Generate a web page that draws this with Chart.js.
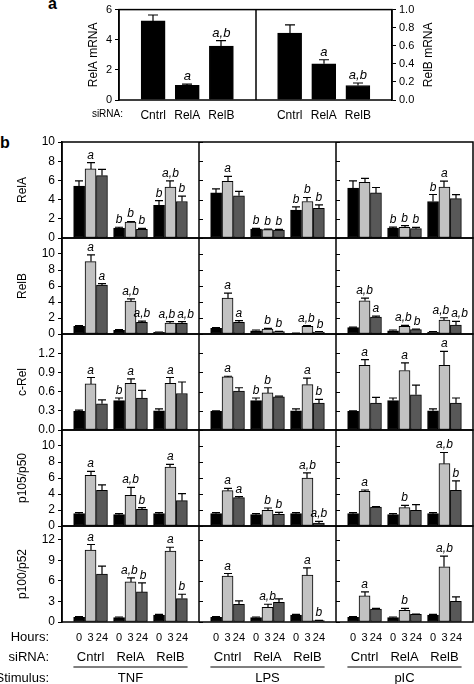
<!DOCTYPE html>
<html>
<head>
<meta charset="utf-8">
<script src="https://cdn.jsdelivr.net/npm/chart.js@4.4.0/dist/chart.umd.min.js"></script>
<style>
  html, body { margin: 0; padding: 0; background: #fff; }
  #wrap { position: relative; width: 474px; height: 684px; overflow: hidden; font-family: "Liberation Sans", Arial, sans-serif; }
  canvas { position: absolute; left: 0; }
  .panel { position: absolute; font-weight: bold; font-size: 16px; color: #000; }
</style>
</head>
<body>
<div id="wrap">
  <div class="panel" style="left:48px; top:-5px;">a</div>
  <div class="panel" style="left:0px; top:134px;">b</div>
  <canvas id="mrna" width="474" height="125" style="top:0px"></canvas>
  <canvas id="row0" width="474" height="124" style="top:128px"></canvas>
  <canvas id="row1" width="474" height="124" style="top:224px"></canvas>
  <canvas id="row2" width="474" height="124" style="top:320px"></canvas>
  <canvas id="row3" width="474" height="124" style="top:416px"></canvas>
  <canvas id="row4" width="474" height="172" style="top:512px"></canvas>
</div>
<script>
// ---- data ----
const sirnaLabels = ['Cntrl', 'RelA', 'RelB'];
const hourLabels = ['0', '3', '24'];
const stimulusLabels = ['TNF', 'LPS', 'pIC'];

// panel a: mRNA after siRNA
const relaMrna = [5.25, 0.97, 3.58];
const relaMrnaSem = [0.39, 0.08, 0.36];
const relaMrnaSig = ['', 'a', 'a,b'];
const relbMrna = [0.74, 0.40, 0.16];
const relbMrnaSem = [0.09, 0.045, 0.028];
const relbMrnaSig = ['', 'a', 'a,b'];
const relaMrnaTicks = [0, 1, 2, 3, 4, 5, 6];
const relbMrnaTicks = [0, 0.2, 0.4, 0.6, 0.8, 1.0];

// panel b: order is stimulus (TNF, LPS, pIC) > siRNA (Cntrl, RelA, RelB) > hours (0, 3, 24)
const relaMean = [
  5.4, 7.2, 6.5,   1.04, 1.65, 0.9,   3.4, 5.3, 3.8,
  4.7, 5.9, 4.4,   0.93, 0.87, 0.83,  2.9, 3.8, 3.1,
  5.2, 5.8, 4.7,   1.04, 1.1, 0.97,   3.8, 5.3, 4.1
];
const relaSem = [
  0.55, 0.65, 0.65,  0.08, 0.07, 0.1,   0.5, 0.65, 0.56,
  0.42, 0.52, 0.45,  0.07, 0.06, 0.07,  0.35, 0.42, 0.35,
  0.76, 0.42, 0.56,  0.1, 0.18, 0.13,   0.73, 0.63, 0.41
];
const relaSig = [
  '', 'a', '',  'b', 'b', 'b',  'b', 'a,b', 'b',
  '', 'a', '',  'b', 'b', 'b',  'b', 'b', 'b',
  '', '', '',   'b', 'b', 'b',  'b', 'a', ''
];
const relaTicks = [0, 2, 4, 6, 8, 10];

const relbMean = [
  0.95, 9.05, 6.1,   0.46, 4.1, 1.45,   0.2, 1.37, 1.33,
  0.7, 4.48, 1.45,   0.41, 0.62, 0.29,  0.08, 0.95, 0.25,
  0.79, 4.15, 2.12,  0.41, 0.95, 0.54,  0.25, 1.74, 1.12
];
const relbSem = [
  0.09, 0.83, 0.2,   0.08, 0.3, 0.17,   0.05, 0.17, 0.21,
  0.09, 0.62, 0.21,  0.09, 0.08, 0.04,  0.04, 0.09, 0.04,
  0.08, 0.33, 0.12,  0.09, 0.13, 0.08,  0.04, 0.29, 0.46
];
const relbSig = [
  '', 'a', 'a',    '', 'a,b', 'a,b',  '', 'a,b', 'a,b',
  '', 'a', 'a',    '', 'b', 'b',      '', 'a,b', 'b',
  '', 'a,b', 'a',  '', 'a,b', 'b',    '', 'a,b', 'a,b'
];
const relbTicks = [0, 2, 4, 6, 8, 10];

const crelMean = [
  0.29, 0.72, 0.41,  0.46, 0.73, 0.5,   0.3, 0.73, 0.57,
  0.29, 0.83, 0.61,  0.46, 0.58, 0.52,  0.3, 0.71, 0.42,
  0.29, 1.01, 0.42,  0.46, 0.93, 0.55,  0.3, 1.01, 0.42
];
const crelSem = [
  0.02, 0.1, 0.06,   0.04, 0.07, 0.12,  0.03, 0.09, 0.18,
  0.01, 0.01, 0.05,  0.04, 0.08, 0.01,  0.03, 0.1, 0.06,
  0.01, 0.09, 0.09,  0.04, 0.12, 0.15,  0.03, 0.22, 0.08
];
const crelSig = [
  '', 'a', '',  'b', 'a', '',  '', 'a', '',
  '', 'a', '',  'b', 'b', '',  '', 'a', 'b',
  '', 'a', '',  '', 'a', '',   '', 'a', ''
];
const crelTicks = [0, 0.3, 0.6, 0.9, 1.2];

const p105Mean = [
  1.54, 6.33, 4.46,  1.42, 3.83, 2.08,  1.54, 7.38, 3.17,
  1.54, 4.42, 3.54,  1.42, 1.96, 1.46,  1.54, 6.0, 0.38,
  1.54, 4.33, 2.38,  1.42, 2.29, 1.96,  1.54, 7.79, 4.46
];
const p105Sem = [
  0.13, 0.5, 0.67,   0.12, 1.0, 0.21,   0.13, 0.33, 0.87,
  0.13, 0.29, 0.13,  0.12, 0.29, 0.25,  0.13, 0.63, 0.2,
  0.13, 0.17, 0.04,  0.12, 0.29, 0.71,  0.13, 1.4, 1.17
];
const p105Sig = [
  '', 'a', '',   '', 'a,b', 'b',  '', 'a', '',
  '', 'a', 'a',  '', 'b', 'b',    '', 'a,b', 'a,b',
  '', 'a', '',   '', 'b', '',     '', 'a,b', 'b'
];
const p105Ticks = [0, 2, 4, 6, 8, 10];

const p100Mean = [
  0.68, 10.5, 7.0,   0.63, 5.85, 4.39,  1.02, 10.34, 3.41,
  0.68, 6.68, 2.59,  0.63, 2.15, 2.88,  1.02, 6.83, 0.2,
  0.68, 3.8, 1.9,    0.63, 1.7, 1.12,   1.02, 8.05, 3.02
];
const p100Sem = [
  0.1, 0.8, 1.15,   0.1, 0.59, 1.31,  0.08, 0.56, 0.64,
  0.1, 0.39, 0.48,  0.1, 0.44, 0.49,  0.08, 1.07, 0.04,
  0.1, 0.59, 0.1,   0.1, 0.3, 0.05,   0.08, 1.55, 0.64
];
const p100Sig = [
  '', 'a', '',  '', 'a,b', 'b',  '', 'a', 'b',
  '', 'a', '',  '', 'a,b', '',   '', 'a', 'b',
  '', 'a', '',  '', 'b', '',     '', 'a,b', ''
];
const p100Ticks = [0, 3, 6, 9, 12];

// ---- style ----
const FONT = '"Liberation Sans", Arial, sans-serif';
const hourColors = ['#000000', '#c2c2c2', '#585858'];
Chart.defaults.font.family = FONT;
Chart.defaults.font.size = 12;
Chart.defaults.color = '#000';

const rows = [
  { title: 'RelA', mean: relaMean, sem: relaSem, sig: relaSig, ticks: relaTicks, max: 10, digits: 0 },
  { title: 'RelB', mean: relbMean, sem: relbSem, sig: relbSig, ticks: relbTicks, max: 12, digits: 0 },
  { title: 'c-Rel', mean: crelMean, sem: crelSem, sig: crelSig, ticks: crelTicks, max: 1.5, digits: 1 },
  { title: 'p105/p50', mean: p105Mean, sem: p105Sem, sig: p105Sig, ticks: p105Ticks, max: 12, digits: 0 },
  { title: 'p100/p52', mean: p100Mean, sem: p100Sem, sig: p100Sig, ticks: p100Ticks, max: 14, digits: 0 }
];

// each stimulus column is 12 x-units wide, bars are 1 unit
function barX(i) {
  const col = Math.floor(i / 9), grp = Math.floor(i / 3) % 3, h = i % 3;
  return col * 12 + 2.5 + grp * 3.5 + (h - 1);
}

function errorBarPlugin(cap, fontSize) {
  return {
    id: 'errorBars',
    afterDatasetsDraw(chart) {
      const ctx = chart.ctx;
      const labels = [];
      ctx.save();
      ctx.strokeStyle = '#000';
      ctx.fillStyle = '#000';
      ctx.lineWidth = 1.2;
      ctx.font = 'italic ' + fontSize + 'px ' + FONT;
      chart.data.datasets.forEach((ds, di) => {
        const meta = chart.getDatasetMeta(di);
        const yScale = chart.scales[meta.yAxisID];
        meta.data.forEach((bar, j) => {
          const top = yScale.getPixelForValue(ds.data[j].y + ds.sem[j]);
          const x = Math.round(bar.x);
          ctx.beginPath();
          ctx.moveTo(x, bar.y);
          ctx.lineTo(x, top);
          ctx.moveTo(x - cap, top);
          ctx.lineTo(x + cap, top);
          ctx.stroke();
          if (ds.sig[j]) {
            const w = ctx.measureText(ds.sig[j]).width;
            labels.push({ text: ds.sig[j], x: bar.x, y: top - 4, w: w });
          }
        });
      });
      // push apart labels that would collide
      labels.sort((p, q) => p.x - q.x);
      for (let k = 1; k < labels.length; k++) {
        const p = labels[k - 1], q = labels[k];
        const overlapX = (p.w + q.w) / 2 + 2 - (q.x - p.x);
        if (overlapX > 0 && Math.abs(p.y - q.y) < fontSize) {
          p.x -= overlapX / 2;
          q.x += overlapX / 2;
        }
      }
      ctx.textAlign = 'center';
      ctx.textBaseline = 'alphabetic';
      labels.forEach(l => ctx.fillText(l.text, l.x, l.y));
      ctx.restore();
    }
  };
}

const rowFrame = {
  id: 'rowFrame',
  afterDatasetsDraw(chart) {
    const { ctx, chartArea: a, scales: { x, y } } = chart;
    ctx.save();
    ctx.strokeStyle = '#000';
    ctx.lineWidth = 1.5;
    ctx.strokeRect(a.left, a.top, a.right - a.left, a.bottom - a.top);
    [12, 24].forEach(v => {
      const px = Math.round(x.getPixelForValue(v));
      ctx.lineWidth = 1.5;
      ctx.beginPath();
      ctx.moveTo(px, a.top);
      ctx.lineTo(px, a.bottom);
      ctx.stroke();
      ctx.lineWidth = 1;
      ctx.beginPath();
      y.ticks.forEach(t => {
        const py = Math.round(y.getPixelForValue(t.value)) + 0.5;
        ctx.moveTo(px, py);
        ctx.lineTo(px + 4, py);
      });
      ctx.stroke();
    });
    ctx.restore();
  }
};

const bottomLabels = {
  id: 'bottomLabels',
  afterDraw(chart) {
    const { ctx, chartArea: a, scales: { x } } = chart;
    ctx.save();
    ctx.fillStyle = '#000';
    ctx.strokeStyle = '#000';
    ctx.font = '13px ' + FONT;
    ctx.textBaseline = 'middle';
    ctx.textAlign = 'right';
    ctx.fillText('Hours:', 49, a.bottom + 15);
    ctx.fillText('siRNA:', 49, a.bottom + 35);
    ctx.fillText('Stimulus:', 49, a.bottom + 56);
    ctx.textAlign = 'center';
    stimulusLabels.forEach((s, c) => {
      sirnaLabels.forEach((r, g) => {
        ctx.fillText(r, x.getPixelForValue(c * 12 + 2.5 + g * 3.5), a.bottom + 35);
      });
      ctx.lineWidth = 1.2;
      ctx.beginPath();
      ctx.moveTo(x.getPixelForValue(c * 12 + 1), a.bottom + 45);
      ctx.lineTo(x.getPixelForValue(c * 12 + 11), a.bottom + 45);
      ctx.stroke();
      ctx.fillText(s, x.getPixelForValue(c * 12 + 6), a.bottom + 56);
    });
    ctx.restore();
  }
};

const mrnaFrame = {
  id: 'mrnaFrame',
  afterDatasetsDraw(chart) {
    const { ctx, chartArea: a, scales: { x } } = chart;
    ctx.save();
    ctx.strokeStyle = '#000';
    ctx.lineWidth = 1.5;
    ctx.strokeRect(a.left, a.top, a.right - a.left, a.bottom - a.top);
    const px = Math.round(x.getPixelForValue(4));
    ctx.beginPath();
    ctx.moveTo(px, a.top);
    ctx.lineTo(px, a.bottom);
    ctx.stroke();
    ctx.font = '10px ' + FONT;
    ctx.fillStyle = '#000';
    ctx.textAlign = 'right';
    ctx.textBaseline = 'middle';
    ctx.fillText('siRNA:', a.left + 4, a.bottom + 14);
    // right axis title reads bottom-to-top like the left one
    ctx.font = '12px ' + FONT;
    ctx.textAlign = 'center';
    ctx.translate(429, (a.top + a.bottom) / 2);
    ctx.rotate(-Math.PI / 2);
    ctx.fillText('RelB mRNA', 0, 0);
    ctx.restore();
  }
};

// ---- panel a ----
const mrnaTickX = [1, 2, 3, 5, 6, 7];
new Chart(document.getElementById('mrna'), {
  type: 'bar',
  data: {
    datasets: [
      {
        label: 'RelA mRNA',
        data: relaMrna.map((v, i) => ({ x: i + 1, y: v })),
        sem: relaMrnaSem, sig: relaMrnaSig,
        yAxisID: 'yL',
        backgroundColor: '#000', borderColor: '#000', borderWidth: 1,
        barThickness: 24, grouped: false
      },
      {
        label: 'RelB mRNA',
        data: relbMrna.map((v, i) => ({ x: i + 5, y: v })),
        sem: relbMrnaSem, sig: relbMrnaSig,
        yAxisID: 'yR',
        backgroundColor: '#000', borderColor: '#000', borderWidth: 1,
        barThickness: 24, grouped: false
      }
    ]
  },
  options: {
    responsive: false,
    animation: false,
    layout: { padding: { top: 5, left: 0, right: 0, bottom: 0 } },
    plugins: { legend: { display: false }, tooltip: { enabled: false } },
    scales: {
      x: {
        type: 'linear', min: 0, max: 8, offset: false,
        afterBuildTicks: s => { s.ticks = mrnaTickX.map(v => ({ value: v })); },
        afterFit: s => { s.height = 25; },
        grid: { display: false, drawTicks: false },
        border: { display: false },
        ticks: { autoSkip: false, maxRotation: 0, padding: 8, font: { size: 12 },
          callback: (v, i) => sirnaLabels[i % 3] }
      },
      yL: {
        position: 'left', min: 0, max: 6,
        afterBuildTicks: s => { s.ticks = relaMrnaTicks.map(v => ({ value: v })); },
        afterFit: s => { s.width = 119; },
        grid: { drawOnChartArea: false, tickLength: 4, color: '#000' },
        border: { color: '#000', width: 1.5 },
        ticks: { padding: 3, font: { size: 11 }, callback: v => String(v) },
        title: { display: true, text: 'RelA mRNA', padding: { top: 86, bottom: 0 }, font: { size: 12 } }
      },
      yR: {
        position: 'right', min: 0, max: 1.0,
        afterBuildTicks: s => { s.ticks = relbMrnaTicks.map(v => ({ value: v })); },
        afterFit: s => { s.width = 82; },
        grid: { drawOnChartArea: false, tickLength: 4, color: '#000' },
        border: { color: '#000', width: 1.5 },
        ticks: { padding: 3, font: { size: 11 }, callback: v => v.toFixed(1) }
      }
    }
  },
  plugins: [mrnaFrame, errorBarPlugin(5, 13)]
});

// ---- panel b ----
const allBarX = [];
for (let i = 0; i < 27; i++) allBarX.push(barX(i));

rows.forEach((row, r) => {
  const isLast = r === rows.length - 1;
  const datasets = hourLabels.map((h, hi) => {
    const idx = [];
    for (let i = hi; i < 27; i += 3) idx.push(i);
    return {
      label: h + ' h',
      data: idx.map(i => ({ x: barX(i), y: row.mean[i] })),
      sem: idx.map(i => row.sem[i]),
      sig: idx.map(i => row.sig[i]),
      backgroundColor: hourColors[hi],
      borderColor: '#000',
      borderWidth: 1,
      borderSkipped: false,
      barThickness: 11,
      grouped: false
    };
  });

  new Chart(document.getElementById('row' + r), {
    type: 'bar',
    data: { datasets: datasets },
    options: {
      responsive: false,
      animation: false,
      layout: { padding: { top: 14, bottom: isLast ? 0 : 14, left: 0, right: 1 } },
      plugins: { legend: { display: false }, tooltip: { enabled: false } },
      scales: {
        x: {
          type: 'linear', min: 0, max: 36, offset: false,
          afterBuildTicks: s => { s.ticks = allBarX.map(v => ({ value: v })); },
          afterFit: s => { s.height = isLast ? 62 : 0; },
          grid: { display: false, drawTicks: false },
          border: { display: false },
          ticks: { display: isLast, autoSkip: false, maxRotation: 0, padding: 9, font: { size: 11 },
            callback: (v, i) => hourLabels[i % 3] }
        },
        y: {
          min: 0, max: row.max,
          afterBuildTicks: s => { s.ticks = row.ticks.map(v => ({ value: v })); },
          afterFit: s => { s.width = 62; },
          grid: { drawOnChartArea: false, tickLength: 4, color: '#000' },
          border: { color: '#000', width: 1.5 },
          ticks: { padding: 3, callback: v => v.toFixed(row.digits) },
          title: { display: true, text: row.title, padding: { top: 15, bottom: 0 } }
        }
      }
    },
    plugins: isLast ? [rowFrame, errorBarPlugin(4, 12), bottomLabels] : [rowFrame, errorBarPlugin(4, 12)]
  });
});
</script>
</body>
</html>
